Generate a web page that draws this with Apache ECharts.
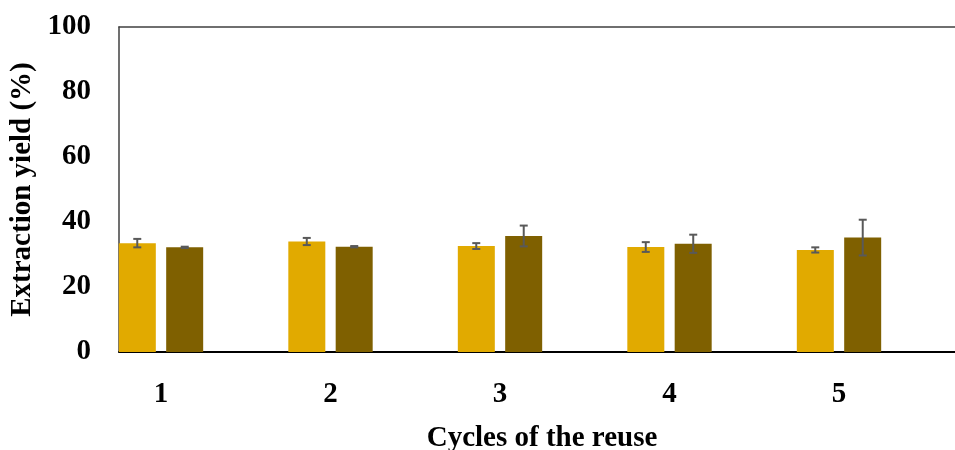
<!DOCTYPE html>
<html>
<head>
<meta charset="utf-8">
<script src="https://cdn.jsdelivr.net/npm/echarts@6/dist/echarts.min.js"></script>
<style>html,body{margin:0;padding:0;background:#fff}#c{width:955px;height:450px}</style>
</head>
<body>
<div id="c"></div>
<script>
const categories = ['1', '2', '3', '4', '5'];
const seriesAValues = [33.5, 34.0, 32.6, 32.3, 31.4];
const seriesAErrors = [1.3, 1.1, 0.9, 1.5, 0.8];
const seriesBValues = [32.2, 32.4, 35.7, 33.3, 35.2];
const seriesBErrors = [0.2, 0.2, 3.2, 2.8, 5.5];
const yMin = 0, yMax = 100, yInterval = 20;

const FONT = '"Liberation Serif", "Times New Roman", serif';
const chart = echarts.init(document.getElementById('c'), null, {renderer: 'canvas'});

function errRender(params, api) {
  const idx = api.value(0), val = api.value(1), e = api.value(2), side = api.value(3);
  const band = api.size([1, 0])[0];
  const off = side * band * 0.14;
  const top = api.coord([idx, val + e]);
  const bot = api.coord([idx, val - e]);
  const x = top[0] + off;
  const cap = 4;
  const st = {stroke: '#595959', lineWidth: 2};
  return {type: 'group', children: [
    {type: 'line', shape: {x1: x, y1: top[1], x2: x, y2: bot[1]}, style: st},
    {type: 'line', shape: {x1: x - cap, y1: top[1], x2: x + cap, y2: top[1]}, style: st},
    {type: 'line', shape: {x1: x - cap, y1: bot[1], x2: x + cap, y2: bot[1]}, style: st}
  ]};
}

const option = {
  animation: false,
  grid: [
    {left: 119, top: 27, right: 0, bottom: 98, containLabel: false, outerBoundsMode: 'none'},
    {left: 76.25, top: 27, width: 847.5, bottom: 98, containLabel: false, outerBoundsMode: 'none'}
  ],
  xAxis: [
    {type: 'value', gridIndex: 0, min: 0, max: 1, position: 'bottom',
     axisLine: {show: true, lineStyle: {color: '#000', width: 2}},
     axisTick: {show: false}, axisLabel: {show: false}, splitLine: {show: false},
     name: 'Cycles of the reuse', nameLocation: 'middle', nameGap: 72,
     nameTextStyle: {fontFamily: FONT, fontWeight: 'bold', fontSize: 29, color: '#000', padding: [0, 0, 0, 10]}},
    {type: 'value', gridIndex: 0, min: 0, max: 1, position: 'top',
     axisLine: {show: true, lineStyle: {color: '#404040', width: 1.5}},
     axisTick: {show: false}, axisLabel: {show: false}, splitLine: {show: false}},
    {type: 'category', gridIndex: 1, data: categories, boundaryGap: true,
     axisLine: {show: false}, axisTick: {show: false}, splitLine: {show: false},
     axisLabel: {fontFamily: FONT, fontWeight: 'bold', fontSize: 29, color: '#000', margin: 28}}
  ],
  yAxis: [
    {type: 'value', gridIndex: 0, min: yMin, max: yMax, interval: yInterval,
     axisLine: {show: true, lineStyle: {color: '#404040', width: 1.5}},
     axisTick: {show: false}, splitLine: {show: false},
     axisLabel: {fontFamily: FONT, fontWeight: 'bold', fontSize: 29, color: '#000', margin: 28},
     name: 'Extraction yield (%)', nameLocation: 'middle', nameGap: 78, nameRotate: 90,
     nameTextStyle: {fontFamily: FONT, fontWeight: 'bold', fontSize: 29, color: '#000'}},
    {type: 'value', gridIndex: 1, min: yMin, max: yMax, interval: yInterval, show: false}
  ],
  series: [
    {name: 'A', type: 'bar', xAxisIndex: 2, yAxisIndex: 1, data: seriesAValues,
     barWidth: 37, barGap: '28%', itemStyle: {color: '#E1AA00'}},
    {name: 'B', type: 'bar', xAxisIndex: 2, yAxisIndex: 1, data: seriesBValues,
     barWidth: 37, barGap: '28%', itemStyle: {color: '#7F6000'}},
    {type: 'custom', xAxisIndex: 2, yAxisIndex: 1, z: 5, renderItem: errRender,
     data: seriesAValues.map((v, i) => [i, v, seriesAErrors[i], -1])},
    {type: 'custom', xAxisIndex: 2, yAxisIndex: 1, z: 5, renderItem: errRender,
     data: seriesBValues.map((v, i) => [i, v, seriesBErrors[i], 1])}
  ]
};
chart.setOption(option);
</script>
</body>
</html>
